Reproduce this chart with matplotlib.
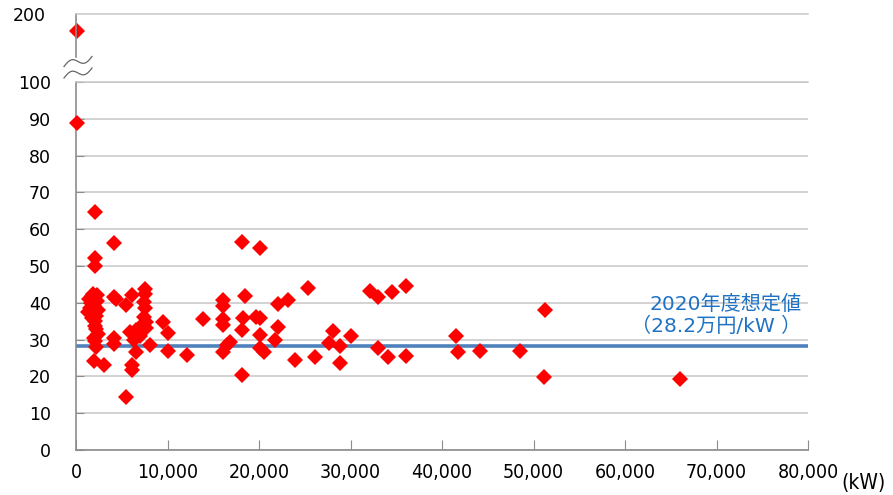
#!/usr/bin/env python3
"""Scatter of unit construction cost vs. plant capacity, with a broken y axis."""

import numpy as np
import matplotlib
matplotlib.use("Agg")
import matplotlib.pyplot as plt
from matplotlib import font_manager

# capacity (kW) and cost (万円/kW), lower panel (0-100)
capacity_kw = [
    1300, 1400, 1500, 1600, 1700, 1800, 1900, 2000, 2000, 2100, 2100, 2200,
    2300, 2300, 2400, 2200, 2000, 2100, 2200, 2400, 2000, 2100, 2100, 2100,
    100, 4100, 3100, 4100, 4400, 4100, 4100,
    5500, 5500, 6100, 6100, 6100, 6600, 5900, 6300, 6600,
    7500, 7500, 7500, 7400, 7400, 7200, 7700, 7700, 8100, 7000,
    9500, 10100, 10100, 12100, 13900,
    16100, 16100, 16100, 16100, 16100, 16500, 16800,
    18100, 20100, 18100, 18500, 18300, 18100,
    19700, 20100, 20100, 20500, 20100,
    21700, 22100, 22100, 23200, 23900, 25400, 26100,
    27600, 28100, 28800, 28800, 30100,
    32100, 33000, 33000, 34100, 34500, 36100, 36100,
    41500, 41700, 44100, 48500, 51300, 51100, 66000,
]
cost = [
    37.5, 41.0, 38.5, 40.0, 41.8, 36.0, 42.5, 39.0, 37.0, 35.0, 33.8, 32.8,
    42.0, 40.5, 38.0, 36.5, 30.5, 29.5, 28.0, 31.5, 24.3, 64.6, 52.1, 50.0,
    88.9, 56.2, 23.0, 41.5, 41.0, 30.5, 28.8,
    14.5, 39.3, 42.1, 23.1, 21.8, 26.6, 32.1, 29.9, 32.6,
    43.8, 42.5, 38.5, 40.3, 36.2, 34.0, 33.1, 34.9, 28.5, 31.0,
    34.8, 31.8, 27.0, 25.7, 35.5,
    40.8, 39.1, 35.6, 34.0, 26.7, 28.5, 29.4,
    56.4, 55.0, 20.4, 41.8, 35.8, 32.6,
    36.2, 36.0, 31.2, 26.7, 27.7,
    29.9, 33.5, 39.6, 40.8, 24.5, 43.9, 25.4,
    29.0, 32.3, 28.3, 23.6, 31.1,
    43.3, 41.7, 27.8, 25.4, 43.0, 44.7, 25.6,
    31.0, 26.7, 26.9, 26.9, 38.0, 19.9, 19.2,
]

# outlier drawn above the axis break
top_capacity_kw = [100]
top_cost = [184]

target_cost = 28.2
target_label = "2020年度想定値\n（28.2万円/kW ）"

x_ticks = [0, 10000, 20000, 30000, 40000, 50000, 60000, 70000, 80000]
y_ticks = [0, 10, 20, 30, 40, 50, 60, 70, 80, 90, 100]

W, H = 893, 495
RED = "#FF0000"
GRID = "#C6C6C6"
AXIS = "#8C8C8C"


def _narrow_font(size):
    # prefer a condensed face for the x labels, like the original
    for f in font_manager.fontManager.ttflist:
        base = f.fname.rsplit("/", 1)[-1]
        if base in ("LiberationSansNarrow-Regular.ttf", "DejaVuSansCondensed.ttf"):
            return font_manager.FontProperties(fname=f.fname, size=size)
    return font_manager.FontProperties(family="DejaVu Sans", size=size - 2)


def fx(px):
    return px / W


def fy(py):
    return 1 - py / H


def main():
    plt.rcParams["font.family"] = ["DejaVu Sans", "Noto Sans CJK JP"]
    narrow = _narrow_font(14)

    fig = plt.figure(figsize=(W / 100, H / 100), dpi=100)
    fig.patch.set_facecolor("white")

    # lower panel
    ax = fig.add_axes([fx(76), fy(450), fx(808) - fx(76), fy(82) - fy(450)])
    ax.set_xlim(0, 80000)
    ax.set_ylim(0, 100)
    ax.set_yticks(y_ticks)
    ax.set_xticks(x_ticks)
    ax.set_xticklabels([f"{v:,}" for v in x_ticks], fontproperties=narrow)
    ax.set_yticklabels([str(v) for v in y_ticks], fontsize=12.5)
    ax.yaxis.grid(True, color=GRID, linewidth=1.1)
    ax.set_axisbelow(True)
    ax.spines["right"].set_visible(False)
    ax.spines["top"].set_color(GRID)
    ax.spines["top"].set_linewidth(1.1)
    ax.spines["left"].set_color(AXIS)
    ax.spines["bottom"].set_color(AXIS)
    ax.spines["left"].set_linewidth(1.2)
    ax.spines["bottom"].set_linewidth(1.2)
    ax.tick_params(axis="y", direction="in", length=6, color=AXIS, pad=18)
    ax.tick_params(axis="x", direction="in", length=7, color=AXIS, pad=9)

    ax.axhline(target_cost, color="#4F81BD", linewidth=2.6, zorder=2)
    ax.plot(capacity_kw, cost, linestyle="none", marker="D", markersize=8,
            color=RED, markeredgewidth=0, clip_on=False, zorder=3)
    ax.text(79300, 36.6, target_label, ha="right", va="center",
            color="#1F72C4", fontsize=14.5, linespacing=1.2,
            family=["DejaVu Sans", "Noto Sans CJK JP"])

    kw_font = narrow.copy()
    kw_font.set_size(narrow.get_size() + 1)
    fig.text(fx(841), fy(483), "(kW)", fontproperties=kw_font,
             ha="left", va="center")

    # upper panel (above the break)
    ax_top = fig.add_axes([fx(76), fy(57), fx(808) - fx(76), fy(14) - fy(57)])
    ax_top.set_xlim(0, 80000)
    ax_top.set_ylim(160, 200)
    ax_top.set_yticks([200])
    ax_top.set_yticklabels(["200"], fontsize=12.5)
    ax_top.set_xticks([])
    ax_top.patch.set_alpha(0)
    for side in ("right", "bottom"):
        ax_top.spines[side].set_visible(False)
    ax_top.spines["top"].set_color(GRID)
    ax_top.spines["top"].set_linewidth(1.1)
    ax_top.spines["left"].set_color(AXIS)
    ax_top.spines["left"].set_linewidth(1.2)
    ax_top.tick_params(axis="y", length=0, pad=22)
    ax_top.plot(top_capacity_kw, top_cost, linestyle="none", marker="D",
                markersize=8, color=RED, markeredgewidth=0, clip_on=False)

    # break symbol (two wavy strokes)
    t = np.linspace(0, 1, 60)
    for base in (66.5, 78.0):
        px = 64 + 28 * t
        py = base - 10 * t - 4 * np.sin(2 * np.pi * t)
        fig.add_artist(plt.Line2D(fx(px), fy(py), color="#666666",
                                  linewidth=0.9, transform=fig.transFigure))

    fig.savefig("out.png", dpi=100)
    plt.close(fig)


if __name__ == "__main__":
    main()
